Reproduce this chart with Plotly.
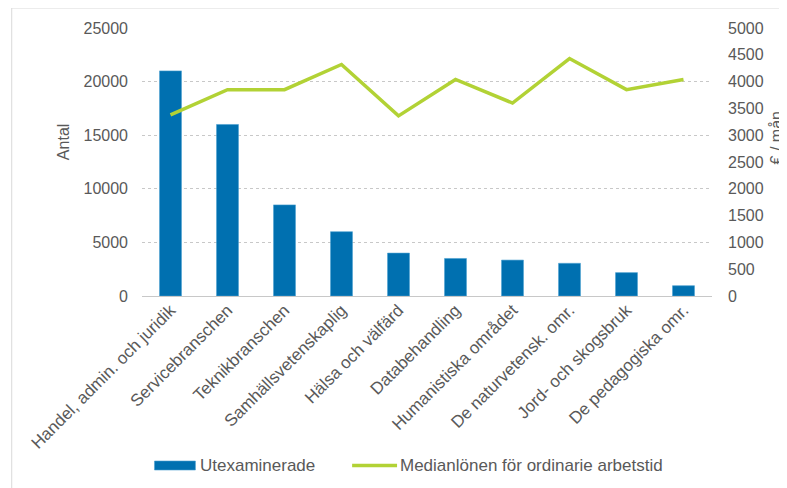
import plotly.graph_objects as go

categories = ["Handel, admin. och juridik", "Servicebranschen", "Teknikbranschen",
              "Samhällsvetenskaplig", "Hälsa och välfärd", "Databehandling",
              "Humanistiska området", "De naturvetensk. omr.", "Jord- och skogsbruk",
              "De pedagogiska omr."]
utexaminerade = [21000, 16000, 8500, 6000, 4000, 3500, 3350, 3050, 2180, 960]
medianlon = [3380, 3850, 3850, 4320, 3360, 4040, 3600, 4430, 3850, 4040]
left_ticks = [0, 5000, 10000, 15000, 20000, 25000]
right_ticks = [0, 500, 1000, 1500, 2000, 2500, 3000, 3500, 4000, 4500, 5000]
bar_name = "Utexaminerade"
line_name = "Medianlönen för ordinarie arbetstid"

BLUE = "#0070B0"
GREEN = "#B2D235"
GREY = "#595959"
FONT = "Liberation Sans, Arial, sans-serif"
FS = 16

# target plot area on screen (page body has an 8px margin)
PL, PR, PT, PB = 141.5, 712.5, 28, 296
OFF = 8
W, H = 787, 488
PW, PH = PR - PL, PB - PT


def px(sx):
    return (sx - PL) / PW


def py(sy):
    return (PB - sy) / PH


fig = go.Figure()
fig.add_trace(go.Bar(x=categories, y=utexaminerade, name=bar_name,
                     marker=dict(color=BLUE, line=dict(color="#4a9fd0", width=0.6)),
                     width=0.385, yaxis="y", showlegend=False))
fig.add_trace(go.Scatter(x=categories, y=medianlon, name=line_name,
                         mode="lines", line=dict(color=GREEN, width=3.5), yaxis="y2",
                         showlegend=False))

fig.update_layout(
    width=W, height=H,
    margin=dict(l=PL - OFF, r=W - PR + OFF, t=PT - OFF, b=H - PB + OFF),
    paper_bgcolor="white", plot_bgcolor="white",
    font=dict(family=FONT, size=FS, color=GREY),
    showlegend=False,
    xaxis=dict(tickangle=-45, tickfont=dict(size=17, color=GREY), showline=False,
               showgrid=False, ticks="", automargin=False),
    yaxis=dict(range=[0, 25000], tickvals=left_ticks, tickformat="d", showgrid=True,
               gridcolor="#c8c8c8", griddash="dot", gridwidth=1,
               zeroline=True, zerolinecolor="#c8c8c8", zerolinewidth=1,
               tickfont=dict(size=FS, color=GREY), ticks="",
               ticklabelstandoff=13, automargin=False),
    yaxis2=dict(range=[0, 5000], tickvals=right_ticks, tickformat="d", overlaying="y",
                side="right", showgrid=False, zeroline=False,
                tickfont=dict(size=FS, color=GREY), ticks="", ticklabelstandoff=15,
                automargin=False),
)

# axis titles
fig.add_annotation(text="Antal", xref="paper", yref="paper", x=px(62.5), y=py(142),
                   textangle=-90, showarrow=False, font=dict(size=FS, color=GREY),
                   xanchor="center", yanchor="middle")
fig.add_annotation(text="€ / mån", xref="paper", yref="paper", x=px(777), y=py(138),
                   textangle=-90, showarrow=False, font=dict(size=FS, color=GREY),
                   xanchor="center", yanchor="middle")

# legend (drawn manually to match the wide bar swatch)
fig.add_shape(type="rect", xref="paper", yref="paper", x0=px(154), x1=px(195),
              y0=py(470), y1=py(461), fillcolor=BLUE, line=dict(color="#4a9fd0", width=0.6))
fig.add_annotation(text=bar_name, xref="paper", yref="paper", x=px(198), y=py(465.5),
                   showarrow=False, xanchor="left", yanchor="middle",
                   font=dict(size=17, color=GREY))
fig.add_shape(type="line", xref="paper", yref="paper", x0=px(352), x1=px(397),
              y0=py(465.5), y1=py(465.5), line=dict(color=GREEN, width=3.5))
fig.add_annotation(text=line_name, xref="paper", yref="paper", x=px(398), y=py(465.5),
                   showarrow=False, xanchor="left", yanchor="middle",
                   font=dict(size=17, color=GREY))

# chart frame (top and left edges visible)
fig.add_shape(type="line", xref="paper", yref="paper", x0=px(11), x1=px(800),
              y0=py(8), y1=py(8), line=dict(color="#d9d9d9", width=1))
fig.add_shape(type="line", xref="paper", yref="paper", x0=px(11), x1=px(11),
              y0=py(8), y1=py(500), line=dict(color="#d9d9d9", width=1))

fig.write_html("out.html")
